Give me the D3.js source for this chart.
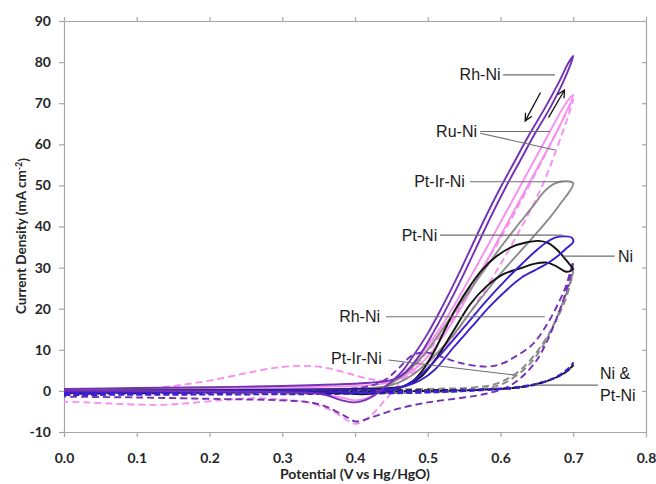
<!DOCTYPE html>
<html>
<head>
<meta charset="utf-8">
<script src="https://cdn.jsdelivr.net/npm/d3@7"></script>
<style>
  body { margin: 0; background: #fff; }
  .tick text, .axis-title { font-family: Lato, "Liberation Sans", sans-serif; font-weight: 700; fill: #262626; }
  .note { font-family: "Liberation Sans", Arial, sans-serif; font-size: 16px; fill: #1a1a1a; }
</style>
</head>
<body>
<svg id="chart" width="656" height="484"></svg>
<script>
// Axis ticks
const xTicks = [0, 0.1, 0.2, 0.3, 0.4, 0.5, 0.6, 0.7, 0.8];
const yTicks = [-10, 0, 10, 20, 30, 40, 50, 60, 70, 80, 90];

// Cyclic voltammograms: [potential (V vs Hg/HgO), current density (mA cm-2)],
// forward sweep to 0.70 V, then the return sweep back to 0 V.
const rhNiSolid = [[0,0.5],[0.1,0.7],[0.2,0.9],[0.3,1.2],[0.38,1.6],[0.42,2.0],[0.44,2.3],[0.455,2.9],[0.47,4.6],[0.49,9],[0.507,14],[0.527,20.5],[0.547,27.5],[0.567,35],[0.587,42.5],[0.607,49.5],[0.627,56],[0.647,62.5],[0.667,68.5],[0.687,75.5],[0.70,81.5],
  [0.694,80],[0.68,75],[0.66,68.5],[0.64,62.5],[0.62,56],[0.60,49.5],[0.58,42.5],[0.56,35],[0.54,27.5],[0.52,20.5],[0.50,14],[0.48,8.5],[0.465,4.8],[0.45,2.2],[0.44,0.8],[0.43,-0.7],[0.415,-2.2],[0.40,-2.8],[0.38,-2.2],[0.36,-1],[0.33,-0.4],[0.25,-0.2],[0.1,0],[0,0.1]];
const rhNiDashed = [[0,-0.8],[0.1,-0.6],[0.2,-0.4],[0.3,-0.1],[0.38,0.3],[0.42,1.2],[0.44,2.5],[0.46,5.5],[0.48,8.8],[0.50,9.3],[0.52,8.2],[0.545,6.8],[0.58,5.9],[0.60,6.5],[0.62,8.3],[0.645,11.5],[0.665,16.5],[0.68,21.5],[0.69,25.5],[0.70,31.5],
  [0.695,27],[0.68,19],[0.665,12.5],[0.65,7.5],[0.63,3.5],[0.61,1],[0.58,-0.7],[0.55,-1.6],[0.50,-2.8],[0.46,-4.3],[0.43,-6],[0.41,-7.2],[0.40,-7.4],[0.385,-6],[0.36,-3.8],[0.338,-2.8],[0.3,-2.3],[0.22,-2],[0.1,-1.6],[0,-1.4]];
const ruNiSolid = [[0,0.2],[0.1,0.4],[0.2,0.6],[0.3,0.8],[0.38,1.1],[0.42,1.4],[0.45,2.2],[0.47,3.8],[0.49,6.5],[0.51,10.5],[0.54,18.5],[0.57,28],[0.61,41],[0.65,54],[0.68,64],[0.70,72],
  [0.69,70],[0.66,60.5],[0.62,47.5],[0.58,34.5],[0.55,25],[0.52,16],[0.50,11],[0.48,6.5],[0.46,3.2],[0.445,1],[0.43,-0.6],[0.415,-1.8],[0.40,-2.3],[0.385,-1.8],[0.36,-0.9],[0.33,-0.4],[0.2,-0.3],[0.1,-0.2],[0,-0.1]];
const ruNiDashed = [[0,-0.4],[0.05,-0.2],[0.1,0.3],[0.15,1.2],[0.2,2.5],[0.25,4.3],[0.29,5.6],[0.33,6.1],[0.36,5.6],[0.39,4.3],[0.42,2.9],[0.45,2.5],[0.47,3.5],[0.49,5.5],[0.52,10],[0.55,17],[0.58,25],[0.62,37],[0.66,51],[0.70,71],
  [0.69,67.5],[0.66,57],[0.62,43.5],[0.58,31],[0.55,22],[0.52,14],[0.49,7.5],[0.47,3.5],[0.455,0.5],[0.44,-2.5],[0.425,-5.5],[0.41,-7.5],[0.40,-8],[0.39,-7.2],[0.37,-5],[0.34,-3],[0.3,-2.1],[0.26,-1.8],[0.22,-2.2],[0.17,-3],[0.13,-3.4],[0.08,-3.2],[0.03,-2.8],[0,-2.6]];
const ptIrNiSolid = [[0,0.1],[0.2,0.3],[0.4,0.6],[0.44,1],[0.46,2],[0.48,4],[0.50,7],[0.53,12.5],[0.56,19.5],[0.60,28.5],[0.63,34.5],[0.66,40.5],[0.68,45],[0.70,50.5],
  [0.69,51],[0.675,50.5],[0.66,48.5],[0.645,45],[0.62,39.5],[0.59,32.5],[0.56,25],[0.53,17.5],[0.50,10],[0.48,6],[0.46,3],[0.44,1],[0.42,0],[0.40,-0.5],[0.35,-0.3],[0.2,-0.2],[0,-0.2]];
const ptIrNiDashed = [[0,-0.3],[0.2,0],[0.4,0.3],[0.5,0.5],[0.56,0.8],[0.59,1.5],[0.61,3],[0.63,5.5],[0.65,9.5],[0.67,15],[0.69,22.5],[0.70,29],
  [0.695,26],[0.68,19],[0.66,11.5],[0.64,6.5],[0.62,3.5],[0.60,1.5],[0.57,0.3],[0.5,-0.3],[0.4,-0.6],[0.2,-0.6],[0,-0.6]];
const ptNiSolid = [[0,0],[0.2,0.1],[0.4,0.3],[0.45,0.5],[0.47,1.2],[0.49,2.6],[0.51,5.2],[0.535,10.5],[0.56,15.5],[0.585,20.5],[0.61,24.8],[0.63,27.7],[0.65,29.6],[0.667,31.3],[0.68,33],[0.69,34.6],[0.70,36.3],
  [0.698,37.3],[0.689,37.6],[0.675,37.3],[0.662,36],[0.648,34],[0.63,31],[0.61,27.5],[0.58,21.8],[0.55,15.5],[0.52,9.3],[0.50,5.5],[0.48,2.4],[0.46,0.7],[0.44,-0.1],[0.41,-0.6],[0.38,-0.4],[0.3,-0.3],[0,-0.3]];
const ptNiDashed = [[0,-0.6],[0.2,-0.4],[0.4,-0.2],[0.5,0],[0.56,0.3],[0.6,0.6],[0.63,1.1],[0.655,2],[0.675,3.3],[0.69,5],[0.70,6.8],
  [0.69,4.8],[0.67,2.8],[0.645,1.5],[0.62,0.7],[0.58,0.2],[0.5,-0.4],[0.4,-0.7],[0.2,-0.9],[0,-1.0]];
const niSolid = [[0,0],[0.2,0.2],[0.4,0.4],[0.44,0.6],[0.47,1.3],[0.49,3.3],[0.51,7.5],[0.535,14.5],[0.558,21],[0.58,25.3],[0.604,28.4],[0.627,29.8],[0.646,30.9],[0.664,31.2],[0.678,30.2],[0.69,29],[0.70,29.6],
  [0.695,30.8],[0.688,32.3],[0.678,34.3],[0.665,36],[0.652,36.5],[0.635,36.1],[0.615,35],[0.595,32.8],[0.575,29.5],[0.558,25.5],[0.54,20.5],[0.526,15.8],[0.51,10],[0.495,5.5],[0.48,2.5],[0.46,0.6],[0.44,-0.2],[0.41,-0.8],[0.38,-0.5],[0.3,-0.3],[0,-0.2]];
const niDashed = [[0,-0.3],[0.3,0],[0.5,0.2],[0.6,0.5],[0.64,1.2],[0.67,2.8],[0.69,4.6],[0.70,6.2],
  [0.685,4],[0.66,2.2],[0.63,1],[0.59,0.4],[0.5,0],[0.3,-0.3],[0,-0.5]];

// Annotation labels: text, anchor point [V, mA cm-2], leader line(s)
const labelNames = ["Rh-Ni", "Ru-Ni", "Pt-Ir-Ni", "Pt-Ni", "Ni", "Rh-Ni", "Pt-Ir-Ni"];
const labelAnchors = [[0.600, 76.9], [0.5677, 63.1], [0.551, 50.9], [0.513, 37.9], [0.7615, 32.8], [0.4344, 18.05], [0.4367, 7.9]];
const leaderLines = [
  [[0.6034, 76.9], [0.6749, 76.9]],
  [[0.572, 63.1], [0.668, 63.1]],
  [[0.572, 62.7], [0.675, 58.6]],
  [[0.558, 50.9], [0.686, 50.9]],
  [[0.517, 37.9], [0.686, 37.9]],
  [[0.686, 32.8], [0.757, 32.8]],
  [[0.4426, 18.05], [0.661, 18.05]],
  [[0.4458, 7.5], [0.6176, 3.9]],
  [[0.6497, 1.4], [0.7341, 1.4]]
];
const stackedLabel = ["Ni &", "Pt-Ni"];
const stackedAnchors = [[0.7368, 4.35], [0.7368, -1.0]];
// Sweep-direction arrows near the Rh-Ni loop
const sweepArrows = [
  [[0.655, 72.6], [0.634, 65.7]],
  [[0.666, 66.5], [0.688, 73.2]]
];

const svg = d3.select("#chart");
const x = d3.scaleLinear().domain([0, 0.8]).range([64, 646]);
const y = d3.scaleLinear().domain([-10, 90]).range([432, 21]);
const frameColor = "#a6a6a6";

// Frame with mirrored, unlabelled ticks on top and right
const axes = [
  svg.append("g").attr("transform", `translate(0,${y(-10)})`)
    .call(d3.axisBottom(x).tickValues(xTicks).tickSizeInner(5).tickSizeOuter(0).tickPadding(16).tickFormat(d3.format(".1f"))),
  svg.append("g").attr("transform", `translate(${x(0)},0)`)
    .call(d3.axisLeft(y).tickValues(yTicks).tickSizeInner(5).tickSizeOuter(0).tickPadding(8).tickFormat(d => String(d))),
  svg.append("g").attr("transform", `translate(0,${y(90)})`)
    .call(d3.axisTop(x).tickValues(xTicks).tickSizeInner(4).tickSizeOuter(0).tickFormat("")),
  svg.append("g").attr("transform", `translate(${x(0.8)},0)`)
    .call(d3.axisRight(y).tickValues(yTicks).tickSizeInner(-4).tickSizeOuter(0).tickFormat(""))
];
axes.forEach(g => {
  g.select(".domain").attr("stroke", frameColor).attr("stroke-width", 1.2);
  g.selectAll(".tick line").attr("stroke", frameColor).attr("stroke-width", 1.2);
  g.selectAll(".tick text").style("font-size", "14px");
});

// Curves
const pink = "#f88ef0", purple = "#7331b8", gray = "#8a8a8a", blue = "#3a1ed0", black = "#111";
const curves = [
  { data: ruNiDashed, color: pink, dash: "7,4" },
  { data: ptIrNiDashed, color: gray, dash: "7,4" },
  { data: ruNiSolid, color: pink, dash: null },
  { data: ptIrNiSolid, color: gray, dash: null },
  { data: rhNiDashed, color: purple, dash: "7,4" },
  { data: niDashed, color: black, dash: "6,3" },
  { data: ptNiDashed, color: blue, dash: "6,3" },
  { data: niSolid, color: black, dash: null },
  { data: ptNiSolid, color: blue, dash: null },
  { data: rhNiSolid, color: purple, dash: null }
];
const line = d3.line().x(d => x(d[0])).y(d => y(d[1])).curve(d3.curveCatmullRom.alpha(0.5));
svg.append("g").selectAll("path").data(curves).join("path")
  .attr("d", d => line(d.data))
  .attr("fill", "none")
  .attr("stroke", d => d.color)
  .attr("stroke-width", 1.9)
  .attr("stroke-linejoin", "round")
  .attr("stroke-dasharray", d => d.dash);

// Leader lines and labels
const notes = svg.append("g");
notes.selectAll("line.leader").data(leaderLines).join("line").attr("class", "leader")
  .attr("x1", d => x(d[0][0])).attr("y1", d => y(d[0][1]))
  .attr("x2", d => x(d[1][0])).attr("y2", d => y(d[1][1]))
  .attr("stroke", "#6e6e6e").attr("stroke-width", 1.1);
notes.selectAll("text.lab").data(labelNames).join("text").attr("class", "note lab")
  .attr("x", (d, i) => x(labelAnchors[i][0])).attr("y", (d, i) => y(labelAnchors[i][1]))
  .attr("dy", "0.35em")
  .attr("text-anchor", (d, i) => labelAnchors[i][0] > 0.75 ? "start" : "end")
  .text(d => d);
notes.selectAll("text.stack").data(stackedLabel).join("text").attr("class", "note stack")
  .attr("x", (d, i) => x(stackedAnchors[i][0])).attr("y", (d, i) => y(stackedAnchors[i][1]))
  .attr("dy", "0.35em").text(d => d);

// Sweep arrows with open heads
svg.append("defs").append("marker").attr("id", "head")
  .attr("viewBox", "0 0 10 10").attr("refX", 9).attr("refY", 5)
  .attr("markerWidth", 7).attr("markerHeight", 7).attr("orient", "auto")
  .append("path").attr("d", "M1,1 L9,5 L1,9").attr("fill", "none").attr("stroke", "#111").attr("stroke-width", 1.4);
svg.append("g").selectAll("line").data(sweepArrows).join("line")
  .attr("x1", d => x(d[0][0])).attr("y1", d => y(d[0][1]))
  .attr("x2", d => x(d[1][0])).attr("y2", d => y(d[1][1]))
  .attr("stroke", "#111").attr("stroke-width", 1.3).attr("marker-end", "url(#head)");

// Axis titles
svg.append("text").attr("class", "axis-title")
  .attr("x", x(0.4)).attr("y", 479).attr("text-anchor", "middle")
  .style("font-size", "14px").text("Potential (V vs Hg/HgO)");
const yTitle = svg.append("text").attr("class", "axis-title")
  .attr("transform", "translate(26,236) rotate(-90)")
  .attr("text-anchor", "middle").style("font-size", "13.5px");
yTitle.append("tspan").text("Current Density (mA cm");
yTitle.append("tspan").attr("dy", "-0.45em").style("font-size", "9px").text("-2");
yTitle.append("tspan").attr("dy", "0.45em").text(")");
</script>
</body>
</html>
